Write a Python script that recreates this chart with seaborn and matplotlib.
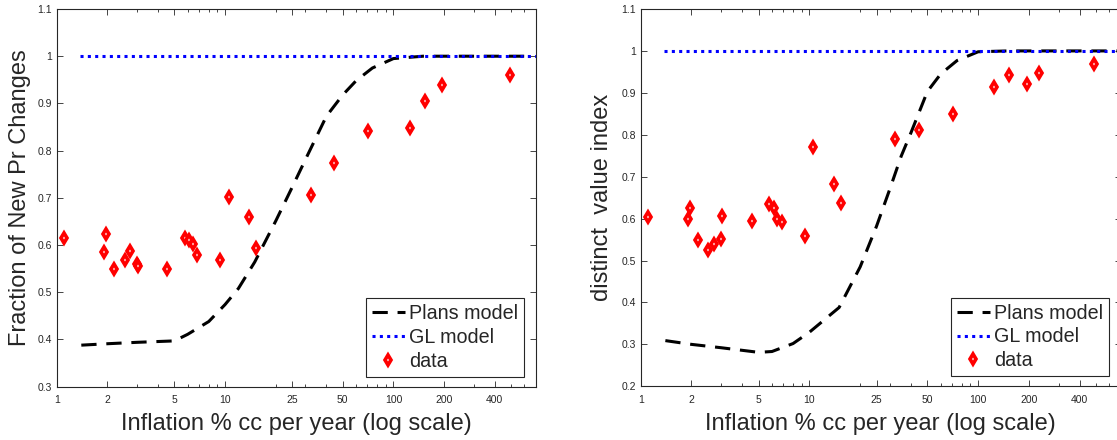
import numpy as np
import matplotlib
matplotlib.use("Agg")
import matplotlib.pyplot as plt
import matplotlib.ticker as mticker
import seaborn as sns

# Observed data: inflation (% cc per year) vs. fraction of new price changes
infl_new = [1.11, 1.90, 1.97, 2.18, 2.53, 2.74, 2.99, 3.03, 4.55, 5.76, 6.14, 6.45, 6.84,
            9.38, 10.55, 13.95, 15.3, 32.4, 44.5, 70.8, 125, 154, 195, 490]
frac_new = [0.615, 0.586, 0.623, 0.550, 0.569, 0.588, 0.560, 0.555, 0.549, 0.614, 0.610,
            0.603, 0.579, 0.569, 0.701, 0.659, 0.594, 0.707, 0.774, 0.841, 0.848, 0.905,
            0.940, 0.960]

# Observed data: inflation vs. distinct value index
infl_dv = [1.11, 1.90, 1.97, 2.18, 2.52, 2.73, 2.99, 3.02, 4.55, 5.77, 6.15, 6.46, 6.85,
           9.38, 10.55, 13.95, 15.3, 32.3, 44.5, 70.7, 124, 153, 194, 228, 488]
dist_val = [0.603, 0.598, 0.626, 0.550, 0.524, 0.540, 0.551, 0.606, 0.594, 0.635, 0.625,
            0.598, 0.591, 0.559, 0.771, 0.682, 0.638, 0.791, 0.812, 0.849, 0.914, 0.943,
            0.920, 0.947, 0.969]

# Plans model predictions on an inflation grid
plans_x_new = [1.4, 2, 3, 5, 6, 8, 10, 12, 15, 20, 25, 30, 40, 50, 60, 75, 100, 150, 200,
               300, 400, 620]
plans_y_new = [0.388, 0.391, 0.394, 0.397, 0.411, 0.438, 0.474, 0.508, 0.564, 0.651, 0.722,
               0.781, 0.873, 0.918, 0.948, 0.975, 0.995, 1.0, 1.0, 1.0, 1.0, 1.0]

plans_x_dv = [1.4, 2, 3, 5, 6, 8, 10, 15, 20, 25, 30, 35, 40, 50, 60, 75, 100, 150, 200,
              300, 400, 700]
plans_y_dv = [0.309, 0.300, 0.292, 0.281, 0.283, 0.302, 0.329, 0.388, 0.485, 0.582, 0.671,
              0.749, 0.805, 0.903, 0.945, 0.977, 0.998, 1.0, 1.0, 1.0, 1.0, 1.0]

# GL model: every price change is a new price
gl_x = [1.37, 700]
gl_y = [1.0, 1.0]

xtick_vals = [1, 2, 5, 10, 25, 50, 100, 200, 400]
xtick_labels = ["1", "2", "5", "10", "25", "50", "100", "200", "400"]

sns.set_theme(style="ticks")
plt.rcParams["font.family"] = ["Liberation Sans", "DejaVu Sans"]

INK = "#262626"

fig = plt.figure(figsize=(11.17, 4.4), dpi=100)
fig.patch.set_facecolor("white")
W, H = 1117.0, 440.0
ax1 = fig.add_axes([56.7 / W, 53.3 / H, 479.0 / W, 377.7 / H])
ax2 = fig.add_axes([640.7 / W, 53.7 / H, 480.0 / W, 377.3 / H])


def draw_panel(ax, xd, yd, px, py, ylabel, ylim, ylab_x):
    sns.lineplot(x=px, y=py, ax=ax, color="black", linewidth=2.2,
                 linestyle=(0, (5, 3.2)), estimator=None, sort=False,
                 label="Plans model")
    sns.lineplot(x=gl_x, y=gl_y, ax=ax, color="blue", linewidth=2.2,
                 linestyle=(0, (1, 1.4)), estimator=None, sort=False,
                 label="GL model")
    sns.lineplot(x=xd, y=yd, ax=ax, linestyle="none", marker="d",
                 markersize=5.2, markerfacecolor="white", markeredgecolor="red",
                 markeredgewidth=2.6, color="red", estimator=None, sort=False,
                 label="data")
    for ln in ax.get_lines()[:2]:
        ln.set_dash_capstyle("butt")

    ax.set_xscale("log")
    ax.set_xlim(1, 700)
    ax.set_ylim(*ylim)
    ax.xaxis.set_major_locator(mticker.FixedLocator(xtick_vals))
    ax.xaxis.set_major_formatter(mticker.FixedFormatter(xtick_labels))
    ax.xaxis.set_minor_locator(mticker.LogLocator(base=10, subs=np.arange(2, 10)))
    ax.xaxis.set_minor_formatter(mticker.NullFormatter())
    ax.yaxis.set_major_locator(mticker.MultipleLocator(0.1))
    ax.yaxis.set_major_formatter(mticker.FuncFormatter(lambda v, p: f"{v:.10g}"))

    ax.tick_params(which="both", direction="in", top=True, right=True,
                   color=INK, labelcolor=INK, width=0.6, labelsize=7.5)
    ax.tick_params(which="major", length=4.5)
    ax.tick_params(which="minor", length=2.5)
    ax.tick_params(axis="x", which="major", pad=6)
    ax.tick_params(axis="y", which="major", pad=3.5)
    for sp in ax.spines.values():
        sp.set_visible(True)
        sp.set_color(INK)
        sp.set_linewidth(0.8)

    ax.set_xlabel("Inflation % cc per year (log scale)", fontsize=17, color=INK)
    ax.xaxis.set_label_coords(0.5, -0.099)
    ax.xaxis.label.set_va("center")
    ax.set_ylabel(ylabel, fontsize=17, color=INK)
    ax.yaxis.set_label_coords(ylab_x, 0.5)
    ax.yaxis.label.set_va("center")

    leg = ax.legend(loc="lower right", bbox_to_anchor=(0.976, 0.0265),
                    borderaxespad=0, frameon=True, fancybox=False,
                    edgecolor=INK, framealpha=1, fontsize=14.2,
                    handlelength=1.7, handletextpad=0.2, labelspacing=0.25,
                    borderpad=0.3, numpoints=1)
    leg.get_frame().set_linewidth(0.8)


draw_panel(ax1, infl_new, frac_new, plans_x_new, plans_y_new,
           "Fraction of New Pr Changes", (0.3, 1.1), -0.077)
draw_panel(ax2, infl_dv, dist_val, plans_x_dv, plans_y_dv,
           "distinct  value index", (0.2, 1.1), -0.080)

fig.savefig("out.png", dpi=100, facecolor="white")
